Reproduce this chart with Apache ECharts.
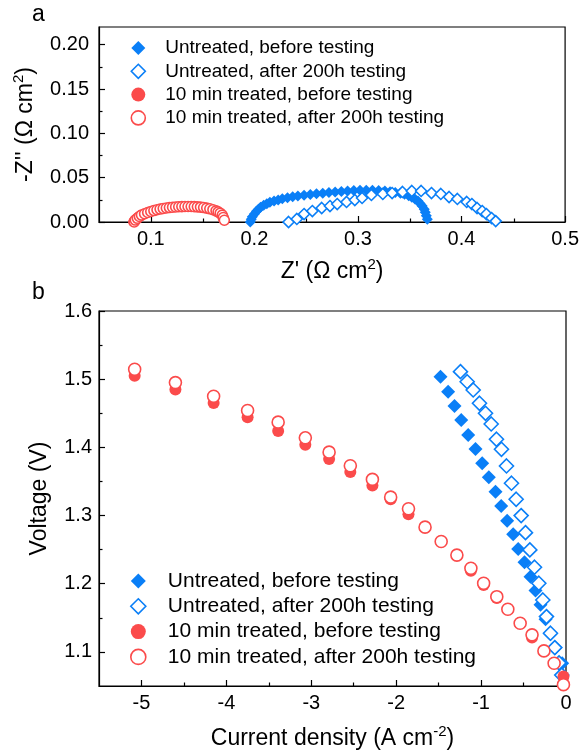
<!DOCTYPE html>
<html><head><meta charset="utf-8">
<script src="https://cdn.jsdelivr.net/npm/echarts@6/dist/echarts.min.js"></script>
<style>html,body{margin:0;padding:0;background:#fff}#c{width:582px;height:755px}</style>
</head><body><div id="c"></div>
<script>
// ---------- Panel a: Nyquist (Z', -Z'') ----------
const untreatedBeforeZre = [0.196,0.197,0.198,0.200,0.202,0.204,0.206,0.209,0.212,0.215,0.219,0.223,0.227,0.232,0.237,0.242,0.248,0.254,0.260,0.266,0.272,0.278,0.284,0.290,0.296,0.302,0.308,0.314,0.320,0.326,0.331,0.336,0.341,0.345,0.349,0.352,0.355,0.358,0.360,0.362,0.364,0.365,0.366,0.367];
const untreatedBeforeZim = [0.000,0.003,0.006,0.009,0.012,0.0145,0.0167,0.0188,0.0207,0.0222,0.0236,0.0249,0.0262,0.0274,0.0284,0.0293,0.0302,0.0310,0.0318,0.0325,0.0332,0.0338,0.0344,0.0349,0.0354,0.0357,0.0358,0.0357,0.0354,0.0349,0.0342,0.0334,0.0324,0.0312,0.0297,0.0280,0.0260,0.0236,0.0210,0.0180,0.0145,0.0110,0.0070,0.0030];
const untreatedAfterZre = [0.233,0.241,0.248,0.256,0.265,0.273,0.280,0.289,0.297,0.304,0.313,0.324,0.333,0.343,0.352,0.361,0.371,0.380,0.388,0.396,0.405,0.410,0.415,0.420,0.424,0.429,0.433];
const untreatedAfterZim = [0.000,0.0034,0.009,0.0124,0.0158,0.018,0.0203,0.0226,0.0248,0.0271,0.0305,0.0316,0.0327,0.0339,0.035,0.035,0.0327,0.0316,0.0282,0.026,0.0226,0.0203,0.0158,0.0124,0.009,0.0045,0.001];
const treatedBeforeZre = [0.083,0.084,0.086,0.088,0.090,0.093,0.096,0.099,0.102,0.105,0.108,0.111,0.114,0.117,0.120,0.123,0.126,0.129,0.132,0.135,0.138,0.141,0.144,0.147,0.150,0.153,0.156,0.159,0.162,0.164,0.166,0.168,0.169,0.170,0.171];
const treatedBeforeZim = [0.000,0.002,0.004,0.006,0.0075,0.009,0.0105,0.0117,0.0127,0.0136,0.0144,0.0151,0.0157,0.0162,0.0166,0.0169,0.0172,0.0174,0.0175,0.0176,0.0176,0.0175,0.0173,0.0170,0.0166,0.0160,0.0153,0.0144,0.0132,0.0121,0.0108,0.0090,0.0070,0.0045,0.0020];
const treatedAfterZre = [0.084,0.085,0.087,0.089,0.091,0.094,0.097,0.100,0.103,0.106,0.109,0.112,0.115,0.118,0.121,0.124,0.127,0.130,0.133,0.136,0.139,0.142,0.145,0.148,0.151,0.154,0.157,0.160,0.163,0.165,0.167,0.169,0.170,0.171];
const treatedAfterZim = [0.000,0.0022,0.0042,0.0062,0.0078,0.0093,0.0107,0.0119,0.0129,0.0138,0.0146,0.0153,0.0158,0.0163,0.0167,0.0170,0.0172,0.0174,0.0175,0.0175,0.0175,0.0173,0.0171,0.0168,0.0163,0.0157,0.0149,0.0139,0.0126,0.0114,0.0099,0.0078,0.0050,0.0020];

// ---------- Panel b: polarization (current density, voltage) ----------
const untreatedBeforeJ = [-1.478,-1.388,-1.313,-1.234,-1.152,-1.066,-0.987,-0.909,-0.830,-0.763,-0.693,-0.622,-0.563,-0.489,-0.418,-0.359,-0.300,-0.241,-0.183,-0.124,-0.045];
const untreatedBeforeV = [1.5037,1.4817,1.4607,1.4402,1.4182,1.3977,1.3767,1.3562,1.335,1.314,1.2925,1.2726,1.251,1.2315,1.2104,1.190,1.169,1.148,1.126,1.106,1.0834];
const untreatedAfterJ = [-1.243,-1.164,-1.093,-1.019,-0.948,-0.881,-0.819,-0.760,-0.701,-0.642,-0.587,-0.528,-0.477,-0.426,-0.371,-0.320,-0.273,-0.230,-0.183,-0.132,-0.082,-0.050];
const untreatedAfterV = [1.511,1.4963,1.4842,1.4647,1.450,1.4343,1.4119,1.3972,1.3727,1.3474,1.3239,1.2999,1.2749,1.2496,1.2242,1.2007,1.1762,1.1518,1.1274,1.1063,1.0839,1.066];
const treatedJ = [-5.08,-4.60,-4.15,-3.75,-3.39,-3.07,-2.79,-2.54,-2.28,-2.065,-1.855,-1.66,-1.47,-1.285,-1.12,-0.97,-0.815,-0.685,-0.54,-0.40,-0.26,-0.14,-0.03];
const treatedBeforeV = [1.505,1.485,1.465,1.444,1.424,1.404,1.383,1.364,1.344,1.324,1.302,1.283,1.262,1.242,1.219,1.198,1.179,1.1626,1.142,1.121,1.1015,1.0834,1.064];
const treatedAfterV = [1.5145,1.495,1.475,1.454,1.437,1.414,1.393,1.373,1.353,1.327,1.310,1.283,1.262,1.242,1.2227,1.2007,1.181,1.1626,1.142,1.125,1.1015,1.0834,1.052];

// ---------- ticks ----------
const aXMajor = [0.1,0.2,0.3,0.4,0.5], aXMinor = [0.15,0.25,0.35,0.45];
const aYMajor = [0,0.05,0.1,0.15,0.2], aYMinor = [0.025,0.075,0.125,0.175];
const bXMajor = [-5,-4,-3,-2,-1,0], bXMinor = [-4.5,-3.5,-2.5,-1.5,-0.5];
const bYMajor = [1.1,1.2,1.3,1.4,1.5,1.6], bYMinor = [1.15,1.25,1.35,1.45,1.55];

const names = ['Untreated, before testing','Untreated, after 200h testing','10 min treated, before testing','10 min treated, after 200h testing'];
const BLUE = '#0a7ff7', RED = '#fb4b4b';
const FONT = 'Liberation Sans, Arial, sans-serif';
const zip = (a,b) => a.map((v,i)=>[v,b[i]]);

function majorAxis(grid, min, max, ticks, fmt, fs, margin, extra) {
  return Object.assign({
    type:'value', gridIndex:grid, min, max,
    axisLine:{show:true, onZero:false, lineStyle:{color:'#000', width:1.2}},
    axisTick:{show:true, inside:true, length:6, customValues:ticks, lineStyle:{color:'#000', width:1.2}},
    axisLabel:{customValues:ticks, formatter:fmt, fontSize:fs, color:'#000', fontFamily:FONT, margin},
    splitLine:{show:false}
  }, extra);
}
function minorAxis(grid, min, max, ticks, pos) {
  return {
    type:'value', gridIndex:grid, min, max, position:pos,
    axisLine:{show:false, onZero:false},
    axisTick:{show:true, inside:true, length:3.5, customValues:ticks, lineStyle:{color:'#000', width:1.2}},
    axisLabel:{show:false}, splitLine:{show:false}
  };
}
const TITLE_FS = 23;
const sup = {fontSize:15, fontFamily:FONT, color:'#000', verticalAlign:'top', padding:[0,0,14,0]};
const titleStyle = {fontSize:TITLE_FS, color:'#000', fontFamily:FONT, rich:{s:sup}};

const legendIcons = [
  {icon:'diamond', itemStyle:{color:BLUE, borderWidth:0}},
  {icon:'diamond', itemStyle:{color:'#fff', borderColor:BLUE, borderWidth:1.6}},
  {icon:'circle', itemStyle:{color:RED, borderWidth:0}},
  {icon:'circle', itemStyle:{color:'#fff', borderColor:RED, borderWidth:1.6}}
];

function mkLegend(top, size, fs, gap, pad) {
  return {
    orient:'vertical', left:137.5 - size/2, top, itemWidth:size, itemHeight:size, itemGap:gap,
    selectedMode:false, padding:0,
    textStyle:{fontSize:fs, lineHeight:fs, color:'#000', fontFamily:FONT, padding:[0,0,0,pad]},
    data: names.map((n,i)=>Object.assign({name:n}, legendIcons[i]))
  };
}

function series(name, xi, yi, data, symbol, size, filled, color) {
  return {
    name, type:'scatter', xAxisIndex:xi, yAxisIndex:yi, data, symbol, symbolSize:size,
    itemStyle: filled ? {color, borderWidth:0, opacity:1} : {color:'#fff', borderColor:color, borderWidth:1.6, opacity:1},
    emphasis:{disabled:true}, animation:false
  };
}

const gridA = {left:99, top:27, width:467, height:195};
const gridB = {left:99, top:311, width:467, height:375};

const option = {
  animation:false,
  textStyle:{fontFamily:FONT},
  grid:[
    Object.assign({show:true, borderColor:'#000', borderWidth:1.2, backgroundColor:'transparent'}, gridA),
    Object.assign({show:true, borderColor:'#000', borderWidth:1.2, backgroundColor:'transparent'}, gridB),
    Object.assign({show:false}, gridA),
    Object.assign({show:false}, gridB)
  ],
  xAxis:[
    majorAxis(0, 0.05, 0.5, aXMajor, v=>v.toFixed(1), 20, 7, {position:'bottom', name:"Z' (Ω cm{s|2})", nameLocation:'middle', nameGap:35, nameTextStyle:titleStyle}),
    minorAxis(2, 0.05, 0.5, aXMinor, 'bottom'),
    majorAxis(1, -5.5, 0, bXMajor, v=>String(Math.round(v)), 20, 7, {position:'bottom', name:'Current density (A cm{s|-2})', nameLocation:'middle', nameGap:38, nameTextStyle:titleStyle}),
    minorAxis(3, -5.5, 0, bXMinor, 'bottom')
  ],
  yAxis:[
    majorAxis(0, 0, 0.22, aYMajor, v=>v.toFixed(2), 20, 10, {position:'left', name:"-Z'' (Ω cm{s|2})", nameLocation:'middle', nameGap:59, nameTextStyle:titleStyle}),
    minorAxis(2, 0, 0.22, aYMinor, 'left'),
    majorAxis(1, 1.05, 1.6, bYMajor, v=>v.toFixed(1), 20, 7, {position:'left', name:'Voltage (V)', nameLocation:'middle', nameGap:48, nameTextStyle:titleStyle}),
    minorAxis(3, 1.05, 1.6, bYMinor, 'left')
  ],
  legend:[
    mkLegend(38.5, 14, 19, 4.3, 15),
    mkLegend(570.5, 15, 21, 4.3, 17)
  ],
  graphic:[
    {type:'text', left:32, top:3, style:{text:'a', fontSize:23, fill:'#000', fontFamily:FONT}},
    {type:'text', left:32, top:281, style:{text:'b', fontSize:23, fill:'#000', fontFamily:FONT}}
  ],
  series:[
    series(names[0], 0, 0, zip(untreatedBeforeZre, untreatedBeforeZim), 'diamond', 11, true, BLUE),
    series(names[1], 0, 0, zip(untreatedAfterZre, untreatedAfterZim), 'diamond', 11, false, BLUE),
    series(names[2], 0, 0, zip(treatedBeforeZre, treatedBeforeZim), 'circle', 10, true, RED),
    series(names[3], 0, 0, zip(treatedAfterZre, treatedAfterZim), 'circle', 10, false, RED),
    series(names[0], 2, 2, zip(untreatedBeforeJ, untreatedBeforeV), 'diamond', 14, true, BLUE),
    series(names[1], 2, 2, zip(untreatedAfterJ, untreatedAfterV), 'diamond', 14, false, BLUE),
    series(names[2], 2, 2, zip(treatedJ, treatedBeforeV), 'circle', 12, true, RED),
    series(names[3], 2, 2, zip(treatedJ, treatedAfterV), 'circle', 12, false, RED)
  ]
};
const chart = echarts.init(document.getElementById('c'), null, {renderer:'canvas'});
chart.setOption(option);
</script></body></html>
